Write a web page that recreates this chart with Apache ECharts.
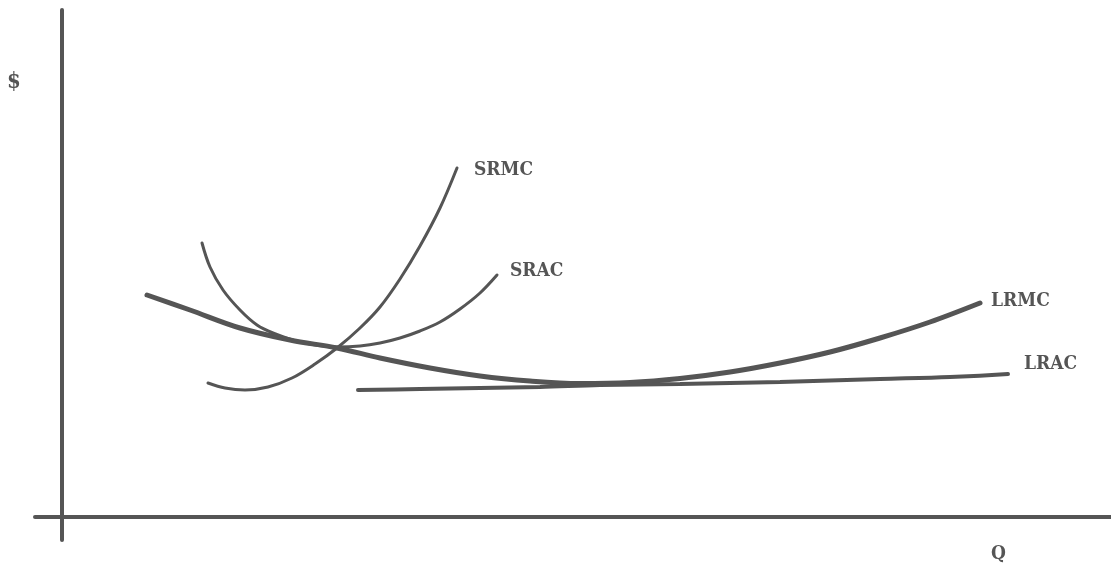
<!DOCTYPE html>
<html>
<head>
<meta charset="utf-8">
<script src="https://cdn.jsdelivr.net/npm/echarts@6/dist/echarts.min.js"></script>
<style>
  html, body { margin: 0; padding: 0; background: #fff; }
  #chart { width: 1111px; height: 571px; }
</style>
</head>
<body>
<div id="chart"></div>
<script>
// curve points, [Q, $]
var srmc = [[146,134],[163,129],[183,127],[206,130],[230,139],[253,153],[275,169],[298,189],[318,210],[338,238],[358,271],[378,309],[395,349]];
var srac = [[140,274],[148,250],[161,227],[178,207],[195,192],[211,184],[238,175],[275,170],[298,171],[318,174],[338,179],[358,186],[378,195],[398,208],[418,224],[435,242]];
var lrmc = [[85,222],[128,207],[178,189],[228,177],[275,169],[318,159],[368,149],[418,141],[468,136],[518,133.5],[568,134.5],[618,138.5],[668,145],[718,154],[768,165],[818,179],[868,195],[918,214]];
var lrac = [[296,127],[358,128],[418,129],[478,130],[538,132],[618,133],[718,135],[818,138],[888,140],[946,143]];
var curveNames = ['SRMC', 'SRAC', 'LRMC', 'LRAC'];

var ink = '#555555';
var font = '"DejaVu Serif Condensed", "DejaVu Serif", serif';

var chart = echarts.init(document.getElementById('chart'));

function curve(name, data, width, offset) {
  return {
    name: name,
    type: 'line',
    data: data,
    smooth: 0.35,
    showSymbol: false,
    lineStyle: { color: ink, width: width, cap: 'round' },
    endLabel: {
      show: true,
      formatter: name,
      color: ink,
      fontFamily: font,
      fontWeight: 'bold',
      fontSize: 19,
      offset: offset
    },
    silent: true
  };
}

var option = {
  backgroundColor: '#fff',
  animation: false,
  grid: { left: 35, right: 0, top: 10, bottom: 31 },
  xAxis: {
    type: 'value', min: -27, max: 1049,
    axisLine: { onZero: true, lineStyle: { color: ink, width: 4 } },
    axisTick: { show: false }, axisLabel: { show: false }, splitLine: { show: false }
  },
  yAxis: {
    type: 'value', min: -23, max: 507,
    axisLine: { show: true, onZero: true, lineStyle: { color: ink, width: 4 } },
    axisTick: { show: false }, axisLabel: { show: false }, splitLine: { show: false }
  },
  graphic: [
    { type: 'text', left: 7, top: 71, style: { text: '$', fill: ink, font: 'bold 22px ' + font } },
    { type: 'text', left: 991, top: 545, style: { text: 'Q', fill: ink, font: 'bold 19px ' + font } }
  ],
  series: [
    curve(curveNames[0], srmc, 3, [9, 2]),
    curve(curveNames[1], srac, 3, [5, -4]),
    curve(curveNames[2], lrmc, 5, [3, -2]),
    curve(curveNames[3], lrac, 4, [8, -10])
  ]
};

chart.setOption(option);
</script>
</body>
</html>
